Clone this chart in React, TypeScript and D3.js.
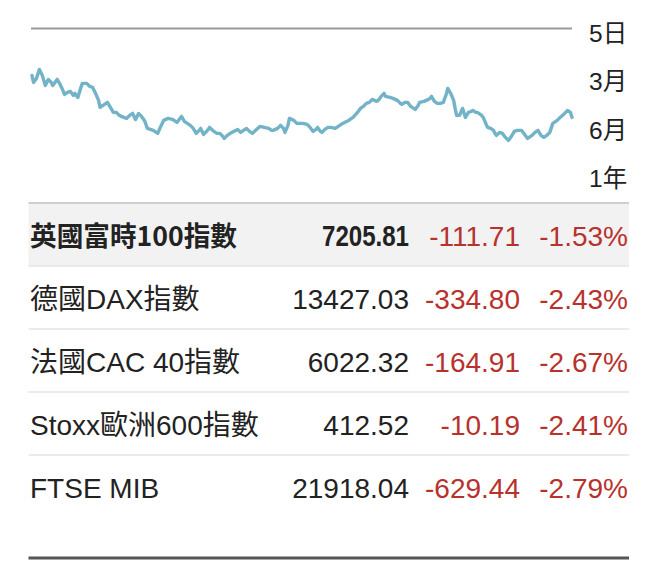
import { useEffect, useRef } from 'react'
import * as d3 from 'd3'

// FTSE 100 closes over one year (calendar day offset, close)
const DAYS = [
  0, 1, 3, 5, 7, 9, 11, 13, 14, 17,
  19, 20, 22, 24, 26, 28, 29, 31, 32, 34,
  37, 39, 41, 43, 45, 46, 49, 51, 53, 55,
  57, 59, 62, 64, 66, 68, 70, 72, 74, 76,
  78, 80, 82, 85, 87, 89, 92, 95, 98, 101,
  103, 105, 107, 109, 111, 113, 114, 116, 118, 120,
  123, 125, 127, 129, 130, 132, 135, 139, 141, 143,
  145, 147, 149, 151, 154, 157, 160, 162, 163, 166,
  168, 170, 171, 173, 174, 177, 179, 183, 186, 188,
  190, 192, 193, 195, 196, 198, 200, 202, 205, 207,
  208, 210, 214, 217, 220, 222, 224, 226, 228, 230,
  233, 234, 236, 238, 239, 242, 244, 247, 249, 250,
  252, 254, 256, 259, 261, 262, 265, 268, 269, 270,
  272, 274, 276, 278, 280, 281, 283, 285, 286, 287,
  289, 291, 293, 295, 297, 298, 300, 301, 304, 305,
  307, 308, 310, 312, 313, 314, 316, 318, 320, 322,
  324, 326, 328, 330, 331, 333, 335, 338, 340, 342,
  344, 346, 348, 350, 352, 355, 357, 360, 362, 364,
  365,
]
const CLOSES = [
  7626, 7556, 7596, 7686, 7626, 7526, 7586, 7556, 7526, 7586,
  7536, 7506, 7436, 7456, 7466, 7426, 7446, 7406, 7456, 7546,
  7546, 7516, 7506, 7446, 7376, 7306, 7336, 7356, 7306, 7256,
  7256, 7226, 7206, 7196, 7226, 7246, 7186, 7246, 7216, 7176,
  7096, 7086, 7076, 7046, 7116, 7176, 7196, 7186, 7156, 7216,
  7166, 7146, 7126, 7096, 7046, 7076, 7096, 7036, 7066, 7106,
  7066, 7046, 7046, 7016, 6996, 7026, 7056, 7086, 7056, 7076,
  7096, 7066, 7046, 7076, 7116, 7106, 7096, 7076, 7076, 7096,
  7126, 7096, 7056, 7126, 7196, 7176, 7146, 7146, 7136, 7106,
  7066, 7086, 7106, 7066, 7056, 7086, 7106, 7106, 7096, 7116,
  7126, 7146, 7176, 7206, 7256, 7296, 7316, 7346, 7356, 7386,
  7366, 7376, 7416, 7446, 7416, 7406, 7396, 7376, 7346, 7336,
  7356, 7356, 7316, 7286, 7326, 7356, 7366, 7386, 7396, 7416,
  7366, 7346, 7346, 7356, 7436, 7496, 7446, 7376, 7296, 7226,
  7226, 7296, 7206, 7256, 7266, 7276, 7256, 7256, 7226, 7206,
  7136, 7106, 7096, 7076, 7046, 7026, 7056, 7046, 7006, 6976,
  7016, 7066, 7076, 7076, 7076, 7036, 6996, 7026, 7056, 7076,
  7026, 7006, 7026, 7056, 7146, 7176, 7206, 7246, 7276, 7256,
  7205.81,
]

const PERIODS = ['5日', '3月', '6月', '1年']

const NAMES = ['英國富時100指數', '德國DAX指數', '法國CAC 40指數', 'Stoxx歐洲600指數', 'FTSE MIB']
const LAST = ['7205.81', '13427.03', '6022.32', '412.52', '21918.04']
const CHANGE = ['-111.71', '-334.80', '-164.91', '-10.19', '-629.44']
const PCT = ['-1.53%', '-2.43%', '-2.67%', '-2.41%', '-2.79%']

const FONT = "'Liberation Sans', Arial, 'Noto Sans CJK TC', sans-serif"
const BOLD_FONT = "'Noto Sans CJK TC', 'Liberation Sans', sans-serif"

export default function App() {
  const svgRef = useRef<SVGSVGElement>(null)

  useEffect(() => {
    if (!svgRef.current) return
    const W = 648, H = 572
    const svg = d3.select(svgRef.current).attr('viewBox', `0 0 ${W} ${H}`)
    svg.selectAll('*').remove()

    // ---- sparkline ----
    const x = d3.scaleLinear().domain([0, 365]).range([32, 572])
    const y = d3.scaleLinear().domain([6500, 8000]).range([188, 38])

    svg.append('line').attr('x1', 31).attr('x2', 572).attr('y1', 28.5).attr('y2', 28.5)
      .attr('stroke', '#9a9a9a').attr('stroke-width', 2)

    const line = d3.line<number>().x((_, i) => x(DAYS[i])).y(d => y(d))
    svg.append('path').attr('d', line(CLOSES) ?? '')
      .attr('fill', 'none').attr('stroke', '#72b3c8').attr('stroke-width', 3.4)
      .attr('stroke-linejoin', 'round').attr('stroke-linecap', 'round')

    const py = d3.scalePoint<string>().domain(PERIODS).range([42, 187])
    svg.append('g').selectAll('text').data(PERIODS).join('text')
      .attr('x', 589).attr('y', d => py(d)!)
      .attr('font-family', FONT).attr('font-size', 24.5).attr('fill', '#222')
      .text(d => d)

    // ---- table ----
    const rowBand = d3.scaleBand<string>().domain(NAMES).range([203, 518])
    const left = 28.5, right = 629
    const bh = rowBand.bandwidth()

    svg.append('rect').attr('x', left).attr('y', rowBand(NAMES[0])!).attr('width', right - left)
      .attr('height', bh).attr('fill', '#f2f2f2')

    svg.append('line').attr('x1', left).attr('x2', right).attr('y1', 203).attr('y2', 203)
      .attr('stroke', '#cfcfcf').attr('stroke-width', 2)

    NAMES.slice(1).forEach(n => {
      const yy = rowBand(n)!
      svg.append('line').attr('x1', left).attr('x2', right).attr('y1', yy).attr('y2', yy)
        .attr('stroke', '#e4e4e4').attr('stroke-width', 1.5)
    })

    NAMES.forEach((n, i) => {
      const base = rowBand(n)! + bh / 2 + 11
      const first = i === 0
      const g = svg.append('g').attr('font-family', FONT).attr('font-size', 28)
      const name = g.append('text').attr('x', 30).attr('y', base).attr('fill', '#222')
        .attr('font-family', first ? BOLD_FONT : FONT).attr('font-size', first ? 27 : 28)
        .attr('font-weight', first ? 700 : 400).text(n)
      if (first) name.attr('textLength', 207).attr('lengthAdjust', 'spacingAndGlyphs')
      const last = g.append('text').attr('x', 409).attr('y', base).attr('text-anchor', 'end')
        .attr('fill', '#222').attr('font-weight', first ? 700 : 400)
        .attr('font-size', first ? 29 : 28).text(LAST[i])
      if (first) last.attr('textLength', 87).attr('lengthAdjust', 'spacingAndGlyphs')
      g.append('text').attr('x', 520).attr('y', base).attr('text-anchor', 'end')
        .attr('fill', '#b8322d').text(CHANGE[i])
      g.append('text').attr('x', 628).attr('y', base).attr('text-anchor', 'end')
        .attr('fill', '#b8322d').text(PCT[i])
    })

    svg.append('line').attr('x1', left).attr('x2', right).attr('y1', 558).attr('y2', 558)
      .attr('stroke', '#555').attr('stroke-width', 3)
  }, [])

  return (
    <div style={{ position: 'absolute', left: 0, top: 0, width: 648, height: 572, background: '#fff' }}>
      <svg ref={svgRef} width={648} height={572} style={{ display: 'block' }} />
    </div>
  )
}
